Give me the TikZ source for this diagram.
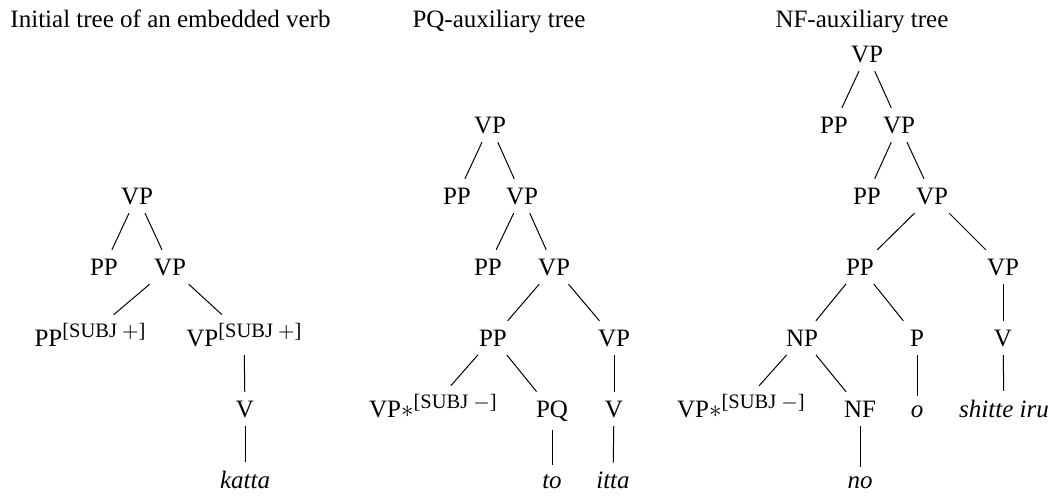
\documentclass[tikz,border=0pt]{standalone}
\usepackage{amsmath}
\usepackage{fontspec}
\setmainfont{Liberation Serif}
\usepackage{tikz}
\newcommand{\subjfeat}[1]{\raisebox{3.3pt}{\fontsize{8.2}{9}\selectfont[SUBJ\ $#1$]}}

\begin{document}
\begin{tikzpicture}[x=0.4pt,y=-0.4pt,
        cat/.style={anchor=base},
        lex/.style={anchor=base,font=\itshape},
        ttl/.style={anchor=base west,inner sep=0pt}]
        \useasboundingbox (0,0) rectangle (1056,495);
        \node[ttl] (ttlA) at (10,27) {Initial tree of an embedded verb};
        \node[ttl] (ttlB) at (412,27) {PQ-auxiliary tree};
        \node[ttl] (ttlC) at (775,27) {NF-auxiliary tree};
        % initial tree
        \node[cat] (aVP) at (137,204) {VP};
        \node[cat] (aPP) at (104,275) {PP};
        \node[cat] (aVPb) at (170,275) {VP};
        \node[cat] (aPPs) at (90,346) {PP\subjfeat{+}};
        \node[cat] (aVPs) at (244,346) {VP\subjfeat{+}};
        \node[cat] (aV) at (245,417) {V};
        \node[lex] (akatta) at (245,488) {katta};
        % PQ tree
        \node[cat] (bVP) at (490,133) {VP};
        \node[cat] (bPP) at (457,204) {PP};
        \node[cat] (bVPb) at (522,204) {VP};
        \node[cat] (bPP2) at (488,275) {PP};
        \node[cat] (bVPc) at (554,275) {VP};
        \node[cat] (bPP3) at (493,346) {PP};
        \node[cat] (bVPd) at (614,346) {VP};
        \node[cat] (bVPs) at (433,417) {VP$\ast$\subjfeat{-}};
        \node[cat] (bPQ) at (552,417) {PQ};
        \node[cat] (bV) at (614,417) {V};
        \node[lex] (bto) at (552,488) {to};
        \node[lex] (bitta) at (613,488) {itta};
        % NF tree
        \node[cat] (cVP) at (867,62) {VP};
        \node[cat] (cPP) at (834,133) {PP};
        \node[cat] (cVPb) at (899,133) {VP};
        \node[cat] (cPP2) at (867,204) {PP};
        \node[cat] (cVPc) at (932,204) {VP};
        \node[cat] (cPP3) at (860,275) {PP};
        \node[cat] (cVPd) at (1003,275) {VP};
        \node[cat] (cNP) at (802,346) {NP};
        \node[cat] (cP) at (917,346) {P};
        \node[cat] (cV) at (1003,346) {V};
        \node[cat] (cVPs) at (741,417) {VP$\ast$\subjfeat{-}};
        \node[cat] (cNF) at (860,417) {NF};
        \node[lex] (co) at (917,417) {o};
        \node[lex] (cshitte) at (1004,417) {shitte iru};
        \node[lex] (cno) at (860,488) {no};
        \foreach \p/\c in {aVP/aPP,aVP/aVPb,aVPb/aPPs,aVPb/aVPs,aVPs/aV,aV/akatta,
                bVP/bPP,bVP/bVPb,bVPb/bPP2,bVPb/bVPc,bVPc/bPP3,bVPc/bVPd,
                bPP3/bVPs,bPP3/bPQ,bVPd/bV,bPQ/bto,bV/bitta,
                cVP/cPP,cVP/cVPb,cVPb/cPP2,cVPb/cVPc,cVPc/cPP3,cVPc/cVPd,
                cPP3/cNP,cPP3/cP,cVPd/cV,cNP/cVPs,cNP/cNF,cP/co,cV/cshitte,cNF/cno}
        \draw (\p) -- (\c);
    \end{tikzpicture}
\end{document}
